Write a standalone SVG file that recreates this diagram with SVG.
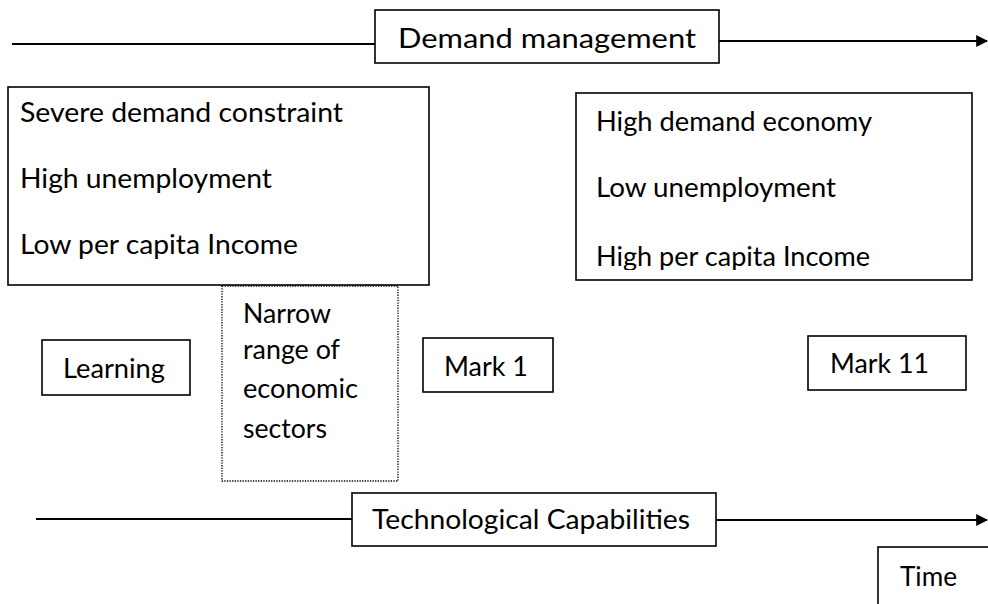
<svg xmlns="http://www.w3.org/2000/svg" width="988" height="604" viewBox="0 0 988 604">
  <style>
    .box { fill: #fff; stroke: #000; stroke-width: 1.6; }
    .dot { fill: #fff; stroke: #000; stroke-width: 1.3; stroke-dasharray: 1.3 1.3; }
    .line { stroke: #000; stroke-width: 1.8; fill: none; }
    text { font-family: Lato, "Open Sans", sans-serif; font-size: 26px; fill: #000; }
  </style>
  <defs>
    <marker id="arrow" viewBox="0 0 10 10" refX="9" refY="5" markerWidth="12" markerHeight="13" markerUnits="userSpaceOnUse" orient="auto">
      <path d="M0,0 L10,5 L0,10 Z" fill="#000"/>
    </marker>
    <!-- text frames clip descenders on the bottom line -->
    <clipPath id="clip-demand"><rect x="376" y="11" width="342" height="42"/></clipPath>
    <clipPath id="clip-high"><rect x="577" y="94" width="394" height="176"/></clipPath>
  </defs>

  <g id="connectors">
    <line class="line" x1="12" y1="44" x2="375" y2="44"/>
    <line class="line" x1="719" y1="41" x2="987" y2="41" marker-end="url(#arrow)"/>
    <line class="line" x1="36" y1="519" x2="352" y2="519"/>
    <line class="line" x1="716" y1="520" x2="987" y2="520" marker-end="url(#arrow)"/>
  </g>

  <g id="demand-management">
    <rect class="box" x="375" y="10" width="344" height="53"/>
    <text x="398" y="48" textLength="298" lengthAdjust="spacingAndGlyphs" clip-path="url(#clip-demand)">Demand management</text>
  </g>

  <g id="low-demand-state">
    <rect class="box" x="8" y="87" width="421" height="198"/>
    <text x="20" y="122" textLength="323" lengthAdjust="spacingAndGlyphs">Severe demand constraint</text>
    <text x="20" y="188" textLength="252" lengthAdjust="spacingAndGlyphs">High unemployment</text>
    <text x="20" y="254" textLength="278" lengthAdjust="spacingAndGlyphs">Low per capita Income</text>
  </g>

  <g id="high-demand-state">
    <rect class="box" x="576" y="93" width="396" height="187"/>
    <text x="596" y="131" textLength="276" lengthAdjust="spacingAndGlyphs">High demand economy</text>
    <text x="596" y="197" textLength="240" lengthAdjust="spacingAndGlyphs">Low unemployment</text>
    <text x="596" y="266" textLength="274" lengthAdjust="spacingAndGlyphs" clip-path="url(#clip-high)">High per capita Income</text>
  </g>

  <g id="narrow-range">
    <rect class="dot" x="222" y="286" width="176" height="195"/>
    <text x="243" y="323" textLength="88" lengthAdjust="spacingAndGlyphs">Narrow</text>
    <text x="243" y="359" textLength="97" lengthAdjust="spacingAndGlyphs">range of</text>
    <text x="243" y="398" textLength="115" lengthAdjust="spacingAndGlyphs">economic</text>
    <text x="243" y="438" textLength="84" lengthAdjust="spacingAndGlyphs">sectors</text>
  </g>

  <g id="learning">
    <rect class="box" x="42" y="340" width="148" height="55"/>
    <text x="63" y="378" textLength="102" lengthAdjust="spacingAndGlyphs">Learning</text>
  </g>

  <g id="mark-1">
    <rect class="box" x="423" y="338" width="130" height="54"/>
    <text x="444" y="376" textLength="84" lengthAdjust="spacingAndGlyphs">Mark 1</text>
  </g>

  <g id="mark-11">
    <rect class="box" x="808" y="336" width="158" height="54"/>
    <text x="830" y="373" textLength="99" lengthAdjust="spacingAndGlyphs">Mark 11</text>
  </g>

  <g id="technological-capabilities">
    <rect class="box" x="352" y="493" width="364" height="53"/>
    <text x="372" y="529" textLength="318" lengthAdjust="spacingAndGlyphs">Technological Capabilities</text>
  </g>

  <g id="time">
    <rect class="box" x="878" y="547" width="130" height="70"/>
    <text x="900" y="586" textLength="57" lengthAdjust="spacingAndGlyphs">Time</text>
  </g>
</svg>
